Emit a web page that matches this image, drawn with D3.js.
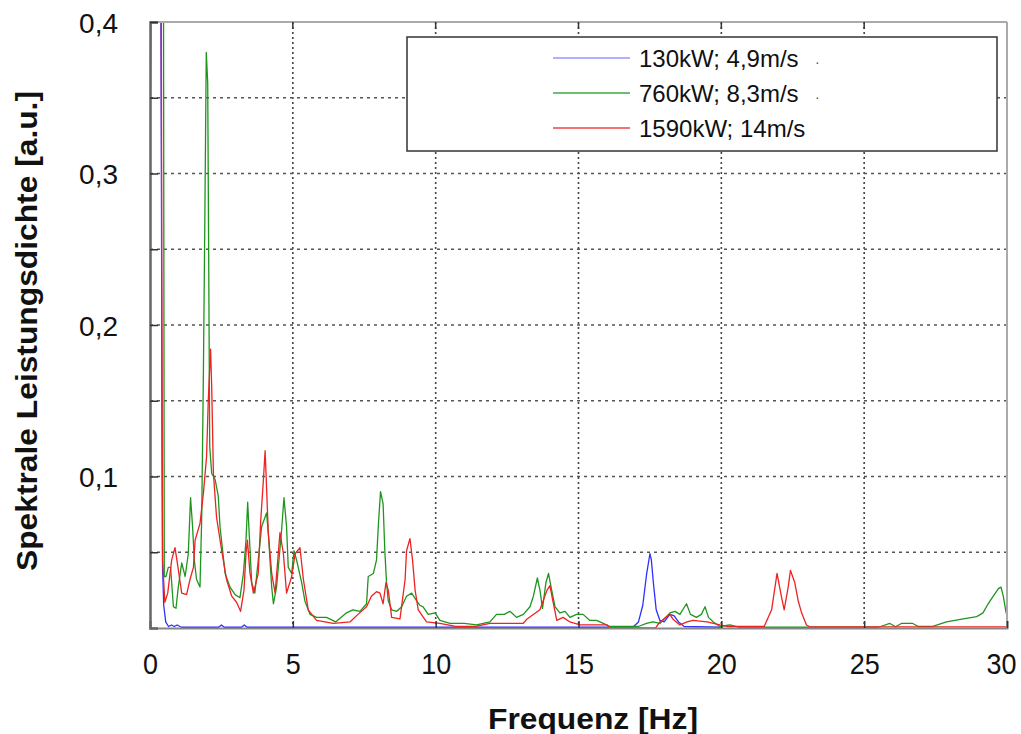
<!DOCTYPE html>
<html>
<head>
<meta charset="utf-8">
<script src="https://cdn.jsdelivr.net/npm/d3@7"></script>
<style>
  body { margin: 0; background: #fff; }
  svg { display: block; font-family: "Liberation Sans", Arial, sans-serif; }
</style>
</head>
<body>
<svg id="chart" width="1021" height="734"></svg>
<script>
// spectra: [frequency Hz, power density a.u.]
const blueSpec = [[0,0.29],[0.05,0.5],[0.36,0.5],[0.40,0.30],[0.42,0.12],[0.44,0.04],[0.48,0.015],[0.55,0.004],[0.65,0.001],[0.75,0.002],[0.85,0.001],[0.95,0.002],[1.1,0.0005],[2.4,0.0005],[2.5,0.002],[2.6,0.0005],[3.2,0.0005],[3.3,0.002],[3.4,0.0005],[16.9,0.0005],[17.1,0.004],[17.25,0.015],[17.38,0.035],[17.5,0.049],[17.55,0.045],[17.62,0.03],[17.72,0.012],[17.85,0.005],[18.0,0.004],[18.2,0.009],[18.35,0.008],[18.5,0.004],[18.7,0.001],[20.0,0.0005]];

const greenSpec = [[0,0.285],[0.05,0.6],[0.46,0.6],[0.5,0.034],[0.56,0.034],[0.64,0.04],[0.72,0.04],[0.82,0.014],[0.91,0.013],[0.99,0.027],[1.11,0.043],[1.23,0.034],[1.34,0.049],[1.42,0.086],[1.49,0.067],[1.55,0.045],[1.63,0.032],[1.75,0.027],[1.81,0.073],[1.87,0.17],[1.92,0.27],[1.97,0.38],[2.02,0.36],[2.05,0.26],[2.09,0.12],[2.16,0.102],[2.28,0.098],[2.39,0.087],[2.45,0.067],[2.63,0.036],[2.8,0.027],[2.98,0.022],[3.15,0.02],[3.27,0.036],[3.36,0.058],[3.42,0.083],[3.47,0.063],[3.56,0.03],[3.67,0.023],[3.79,0.045],[3.91,0.067],[4.08,0.076],[4.14,0.063],[4.26,0.027],[4.32,0.016],[4.43,0.027],[4.6,0.063],[4.69,0.086],[4.78,0.067],[4.84,0.04],[4.96,0.036],[5.04,0.051],[5.13,0.045],[5.31,0.03],[5.42,0.018],[5.6,0.009],[5.83,0.007],[6.18,0.007],[6.5,0.004],[6.88,0.01],[7.1,0.012],[7.35,0.011],[7.58,0.016],[7.64,0.034],[7.82,0.036],[7.93,0.045],[8.0,0.07],[8.07,0.09],[8.16,0.082],[8.22,0.051],[8.28,0.03],[8.34,0.018],[8.46,0.012],[8.64,0.011],[8.81,0.014],[8.98,0.021],[9.16,0.023],[9.33,0.018],[9.45,0.015],[9.56,0.014],[9.74,0.009],[9.98,0.01],[10.15,0.005],[10.5,0.003],[11.0,0.003],[11.43,0.002],[11.9,0.004],[12.13,0.009],[12.4,0.009],[12.6,0.011],[12.83,0.007],[13.07,0.009],[13.3,0.014],[13.42,0.021],[13.56,0.033],[13.65,0.025],[13.74,0.013],[13.86,0.03],[13.95,0.036],[14.06,0.025],[14.18,0.014],[14.35,0.01],[14.53,0.011],[14.7,0.007],[14.93,0.009],[15.16,0.009],[15.4,0.005],[15.63,0.005],[15.87,0.003],[16.1,0.001],[17.1,0.001],[17.38,0.003],[17.6,0.004],[17.85,0.003],[18.2,0.01],[18.38,0.011],[18.55,0.009],[18.78,0.016],[18.92,0.009],[19.13,0.007],[19.3,0.009],[19.43,0.014],[19.55,0.007],[19.72,0.004],[19.95,0.001],[20.3,0.002],[20.6,0.0005],[25.5,0.0005],[25.9,0.003],[26.1,0.0008],[26.3,0.003],[26.7,0.003],[26.9,0.001],[27.4,0.001],[27.88,0.004],[28.47,0.006],[28.94,0.0075],[29.16,0.01],[29.34,0.016],[29.52,0.021],[29.7,0.026],[29.79,0.027],[29.87,0.021],[29.96,0.011],[30.0,0.008]];

const redSpec = [[0,0.6],[0.38,0.6],[0.41,0.25],[0.44,0.045],[0.52,0.017],[0.62,0.023],[0.76,0.045],[0.875,0.053],[0.98,0.04],[1.11,0.023],[1.28,0.022],[1.4,0.032],[1.52,0.04],[1.58,0.058],[1.75,0.069],[1.87,0.089],[1.98,0.113],[2.04,0.15],[2.12,0.184],[2.16,0.159],[2.22,0.102],[2.33,0.073],[2.51,0.051],[2.68,0.032],[2.86,0.021],[3.03,0.017],[3.17,0.011],[3.29,0.025],[3.36,0.049],[3.41,0.058],[3.5,0.036],[3.62,0.023],[3.79,0.036],[3.87,0.069],[3.97,0.098],[4.03,0.117],[4.08,0.093],[4.14,0.063],[4.26,0.036],[4.38,0.023],[4.49,0.049],[4.55,0.063],[4.67,0.049],[4.78,0.023],[4.96,0.034],[5.08,0.049],[5.25,0.053],[5.37,0.032],[5.54,0.012],[5.83,0.005],[6.42,0.003],[7.0,0.004],[7.28,0.009],[7.58,0.014],[7.75,0.021],[7.93,0.024],[8.05,0.023],[8.16,0.016],[8.26,0.03],[8.34,0.025],[8.46,0.007],[8.75,0.006],[8.93,0.032],[8.98,0.051],[9.1,0.059],[9.19,0.045],[9.28,0.025],[9.39,0.012],[9.68,0.004],[10.15,0.003],[10.7,0.001],[11.4,0.001],[11.9,0.003],[12.6,0.003],[13.06,0.003],[13.2,0.006],[13.65,0.012],[13.9,0.025],[14.0,0.028],[14.1,0.018],[14.24,0.005],[14.46,0.007],[14.7,0.004],[15.05,0.002],[16.0,0.002],[16.1,0],[17.7,0],[17.85,0.004],[18.2,0.009],[18.3,0.006],[18.55,0.002],[18.8,0.004],[19.0,0.005],[19.5,0.004],[19.95,0.002],[20.2,0.001],[21.5,0.001],[21.76,0.012],[21.95,0.036],[22.1,0.021],[22.2,0.012],[22.34,0.027],[22.42,0.038],[22.57,0.03],[22.69,0.018],[22.81,0.01],[22.98,0.002],[23.1,0.0008],[30,0.0008]];

const seriesNames = ["130kW; 4,9m/s", "760kW; 8,3m/s", "1590kW; 14m/s"];
const seriesColors = ["#3030ff", "#1e961e", "#ee2222"];
const xTicks = [0, 5, 10, 15, 20, 25, 30];
const yTicks = [0.1, 0.2, 0.3, 0.4];
const yGrid = [0.05, 0.1, 0.15, 0.2, 0.25, 0.3, 0.35];

const margin = {top: 22, right: 14, bottom: 106, left: 150};
const W = 1021, H = 734;
const width = W - margin.left - margin.right,
      height = H - margin.top - margin.bottom;

const svg = d3.select("#chart");
svg.append("rect").attr("width", W).attr("height", H).attr("fill", "#fff");

const x = d3.scaleLinear().domain([0, 30]).range([0, width]);
const y = d3.scaleLinear().domain([0, 0.4]).range([height, 0]);

const g = svg.append("g").attr("transform", "translate(" + margin.left + "," + margin.top + ")");

g.append("clipPath").attr("id", "clip")
  .append("rect").attr("width", width).attr("height", height);

// dotted grid
g.selectAll(".vgrid").data(xTicks.filter(d => d > 0 && d < 30)).enter().append("line")
  .attr("x1", d => x(d)).attr("x2", d => x(d))
  .attr("y1", 0).attr("y2", height)
  .attr("stroke", "#444").attr("stroke-width", 1.6).attr("stroke-dasharray", "2,3");
g.selectAll(".hgrid").data(yGrid).enter().append("line")
  .attr("x1", 0).attr("x2", width)
  .attr("y1", d => y(d)).attr("y2", d => y(d))
  .attr("stroke", "#555").attr("stroke-width", 1.3).attr("stroke-dasharray", "3,4");

// spectra
const line = d3.line().x(d => x(d[0])).y(d => y(d[1]));
const plot = g.append("g").attr("clip-path", "url(#clip)");
[blueSpec, greenSpec, redSpec].forEach(function(s, i) {
  plot.append("path").datum(s)
    .attr("d", line)
    .attr("fill", "none")
    .attr("stroke", seriesColors[i])
    .attr("stroke-width", 1.3)
    .attr("stroke-linejoin", "round");
});

// frame
g.append("line").attr("x1", 0).attr("x2", width).attr("y1", 0).attr("y2", 0)
  .attr("stroke", "#aaa").attr("stroke-width", 2);
g.append("line").attr("x1", width).attr("x2", width).attr("y1", 0).attr("y2", height)
  .attr("stroke", "#aaa").attr("stroke-width", 2);

const xAxis = d3.axisBottom(x).tickValues(xTicks).tickSize(-7).tickFormat(d3.format("d"));
const xg = g.append("g").attr("transform", "translate(0," + height + ")").call(xAxis);
xg.select(".domain").attr("stroke", "#888").attr("stroke-width", 2);
xg.selectAll(".tick line").attr("stroke", "#333").attr("stroke-width", 1.5);
xg.selectAll(".tick text")
  .attr("y", 46).attr("dy", 0)
  .attr("x", d => d === 30 ? -6 : 0)
  .attr("fill", "#111")
  .attr("textLength", d => String(d).length * 15)
  .attr("lengthAdjust", "spacingAndGlyphs")
  .style("font-size", "30px")
  .style("font-family", "'Liberation Sans', Arial, sans-serif");

const yAxis = d3.axisLeft(y).tickValues(yGrid.concat([0.4])).tickSize(-8)
  .tickFormat(d => yTicks.includes(d) ? d3.format(".1f")(d).replace(".", ",") : "");
const yg = g.append("g").call(yAxis);
yg.select(".domain").attr("stroke", "#666").attr("stroke-width", 2.5);
yg.selectAll(".tick line").attr("stroke", "#333").attr("stroke-width", 1.5);
yg.selectAll(".tick text")
  .attr("x", -32).attr("dy", "0.36em")
  .attr("fill", "#111")
  .style("font-size", "28px")
  .style("font-family", "'Liberation Sans', Arial, sans-serif");

// top ticks
g.selectAll(".ttick").data(xTicks.filter(d => d > 0 && d < 30)).enter().append("line")
  .attr("x1", d => x(d)).attr("x2", d => x(d)).attr("y1", 0).attr("y2", 7)
  .attr("stroke", "#333").attr("stroke-width", 1.5);

// legend
const lg = g.append("g").attr("transform", "translate(" + (407 - margin.left) + "," + (37 - margin.top) + ")");
lg.append("rect").attr("width", 590).attr("height", 114)
  .attr("fill", "#fff").attr("stroke", "#333").attr("stroke-width", 1.5);
seriesNames.forEach(function(name, i) {
  const ly = 21 + i * 35;
  lg.append("line").attr("x1", 146).attr("x2", 223).attr("y1", ly).attr("y2", ly)
    .attr("stroke", seriesColors[i]).attr("stroke-width", 1.5).attr("stroke-opacity", i === 0 ? 0.5 : 0.85);
  lg.append("text").attr("x", 232).attr("y", ly + 9)
    .style("font-size", "24px").attr("fill", "#111").text(name);
  if (i < 2) {
    lg.append("text").attr("x", 408).attr("y", ly + 9)
      .style("font-size", "14px").attr("fill", "#555").text("·");
  }
});

// axis titles
svg.append("text")
  .attr("x", 593).attr("y", 729)
  .attr("text-anchor", "middle")
  .attr("textLength", 210).attr("lengthAdjust", "spacingAndGlyphs")
  .style("font-size", "29px").style("font-weight", "bold").attr("fill", "#111")
  .text("Frequenz [Hz]");
svg.append("text")
  .attr("transform", "translate(37,331) rotate(-90)")
  .attr("text-anchor", "middle")
  .attr("textLength", 480).attr("lengthAdjust", "spacingAndGlyphs")
  .style("font-size", "29px").style("font-weight", "bold").attr("fill", "#111")
  .text("Spektrale Leistungsdichte [a.u.]");
</script>
</body>
</html>
